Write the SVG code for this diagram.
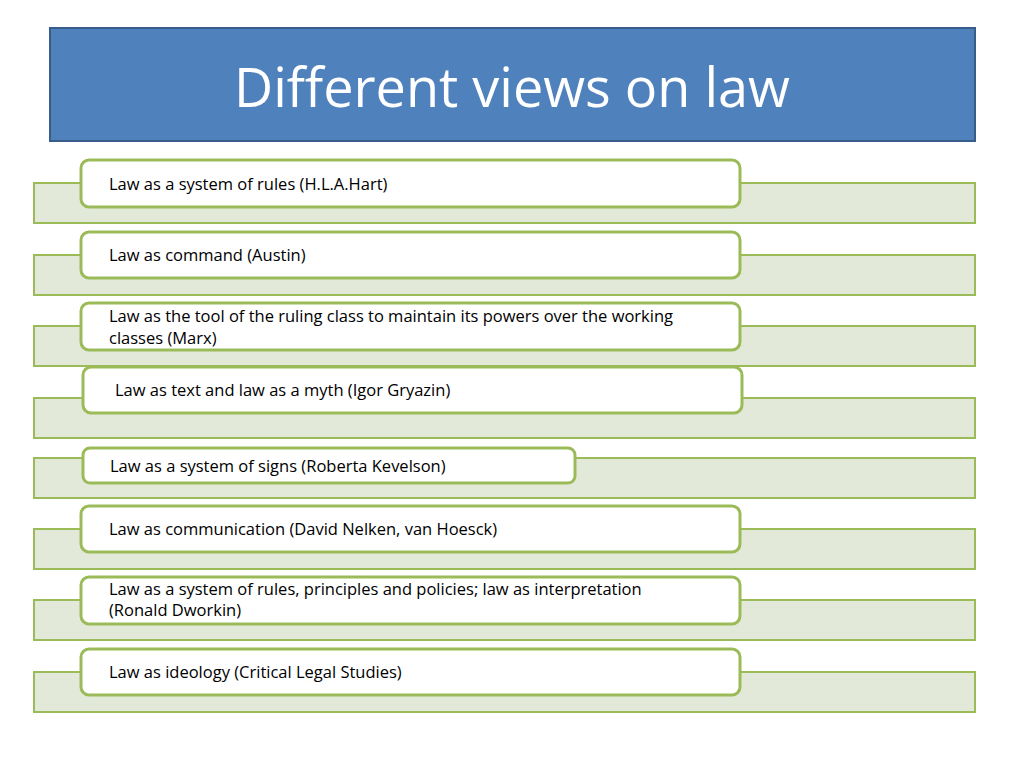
<svg xmlns="http://www.w3.org/2000/svg" width="1024" height="767" viewBox="0 0 1024 767">
<style>
.bar{fill:#E2E9D8;stroke:#9BBB59;stroke-width:2}
.box{fill:#fff;stroke:#9BBB59;stroke-width:3}
.t{font-family:"Open Sans","Liberation Sans",sans-serif;font-size:16.5px;fill:#000}
</style>
<rect width="1024" height="767" fill="#fff"/>
<g id="title"><rect x="50" y="28" width="925" height="113" fill="#4F81BD" stroke="#385D8A" stroke-width="2"/>
<text x="512" y="107" text-anchor="middle" font-family="'Open Sans','Liberation Sans',sans-serif" font-size="54" fill="#fff">Different views on law</text></g>
<g id="n1"><rect class="bar" x="34" y="183" width="941" height="40"/><rect class="box" x="81" y="160" width="659" height="47" rx="8"/><text class="t" x="109" y="190">Law as a system of rules (H.L.A.Hart)</text></g>
<g id="n2"><rect class="bar" x="34" y="255" width="941" height="40"/><rect class="box" x="81" y="232" width="659" height="46" rx="8"/><text class="t" x="109" y="261">Law as command (Austin)</text></g>
<g id="n3"><rect class="bar" x="34" y="326" width="941" height="40"/><rect class="box" x="81" y="303" width="659" height="47" rx="8"/><text class="t" x="109" y="322">Law as the tool of the ruling class to maintain its powers over the working</text><text class="t" x="109" y="344">classes (Marx)</text></g>
<g id="n4"><rect class="bar" x="34" y="398" width="941" height="40"/><rect class="box" x="83" y="367" width="659" height="46" rx="8"/><text class="t" x="115" y="396">Law as text and law as a myth (Igor Gryazin)</text></g>
<g id="n5"><rect class="bar" x="34" y="458" width="941" height="40"/><rect class="box" x="83" y="448" width="492" height="35" rx="7"/><text class="t" x="110" y="472">Law as a system of signs (Roberta Kevelson)</text></g>
<g id="n6"><rect class="bar" x="34" y="529" width="941" height="40"/><rect class="box" x="81" y="506" width="659" height="46" rx="8"/><text class="t" x="109" y="535">Law as communication (David Nelken, van Hoesck)</text></g>
<g id="n7"><rect class="bar" x="34" y="600" width="941" height="40"/><rect class="box" x="81" y="577" width="659" height="47" rx="8"/><text class="t" x="109" y="595">Law as a system of rules, principles and policies; law as interpretation</text><text class="t" x="109" y="616">(Ronald Dworkin)</text></g>
<g id="n8"><rect class="bar" x="34" y="672" width="941" height="40"/><rect class="box" x="81" y="649" width="659" height="46" rx="8"/><text class="t" x="109" y="678">Law as ideology  (Critical Legal Studies)</text></g>
<g id="connectors"/>
</svg>
